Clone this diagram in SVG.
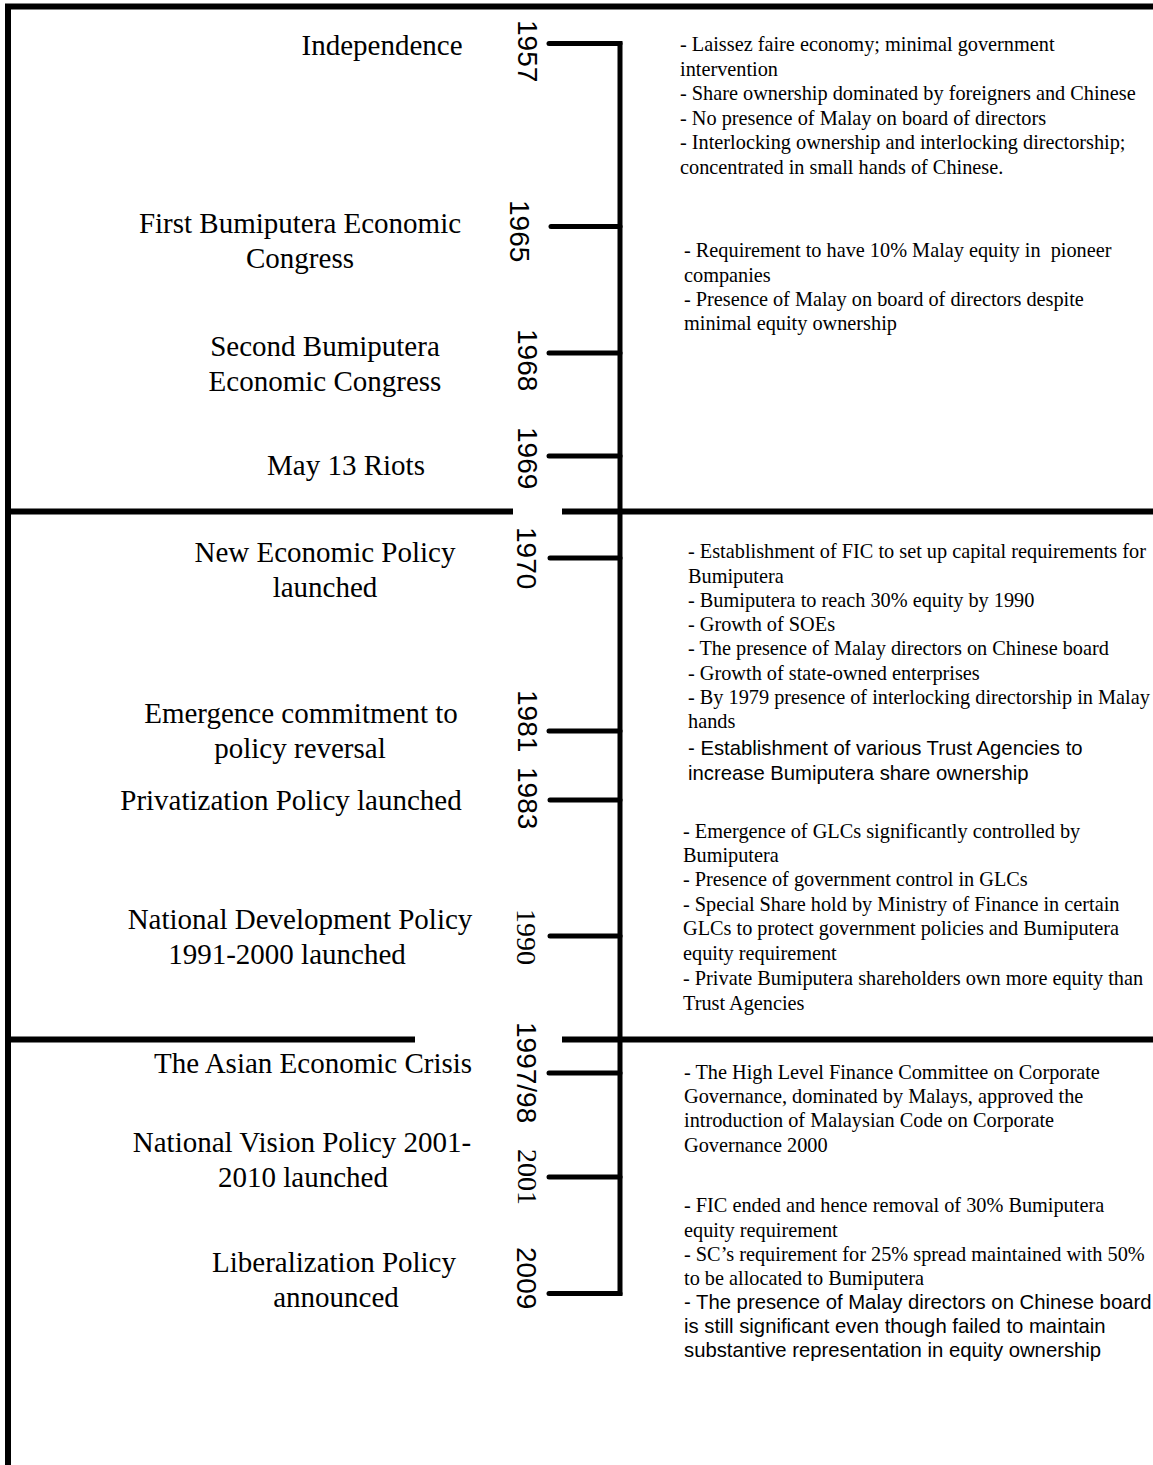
<svg xmlns="http://www.w3.org/2000/svg" width="1153" height="1465" viewBox="0 0 1153 1465">
<style>
.frame{stroke:#000;stroke-width:6;fill:none}
.spine{stroke:#000;stroke-width:5;fill:none}
.tick{stroke:#000;stroke-width:5;stroke-linecap:round;fill:none}
.lbl{font-family:"Liberation Serif","Times New Roman",serif;font-size:29px;fill:#000;text-anchor:middle}
.yr{font-family:"Liberation Sans",Arial,sans-serif;font-size:28px;fill:#000}
.yrs{font-family:"Liberation Serif","Times New Roman",serif;font-size:28px;fill:#000}
.d{font-family:"Liberation Serif","Times New Roman",serif;font-size:20.3px;fill:#000}
.a{font-family:"Liberation Sans",Arial,sans-serif;font-size:20.3px;fill:#000}
</style>
<rect width="1153" height="1465" fill="#fff"/>
<g id="frame">
<line class="frame" x1="5" y1="6.5" x2="1153" y2="6.5"/>
<line class="frame" x1="8" y1="4" x2="8" y2="1465"/>
<line class="frame" x1="8" y1="511.5" x2="513" y2="511.5"/>
<line class="frame" x1="562" y1="511.5" x2="1153" y2="511.5"/>
<line class="frame" x1="8" y1="1039.5" x2="415" y2="1039.5"/>
<line class="frame" x1="562" y1="1039.5" x2="1153" y2="1039.5"/>
</g>
<g id="connectors">
<line class="spine" x1="620" y1="41" x2="620" y2="1296"/>
<line class="tick" x1="549" y1="43.5" x2="620" y2="43.5"/>
<line class="tick" x1="551" y1="226.5" x2="620" y2="226.5"/>
<line class="tick" x1="549" y1="353" x2="620" y2="353"/>
<line class="tick" x1="549" y1="456" x2="620" y2="456"/>
<line class="tick" x1="550" y1="558" x2="620" y2="558"/>
<line class="tick" x1="549" y1="731" x2="620" y2="731"/>
<line class="tick" x1="550" y1="800" x2="620" y2="800"/>
<line class="tick" x1="550" y1="936" x2="620" y2="936"/>
<line class="tick" x1="549" y1="1073" x2="620" y2="1073"/>
<line class="tick" x1="549" y1="1177" x2="620" y2="1177"/>
<line class="tick" x1="549" y1="1293.5" x2="620" y2="1293.5"/>
</g>
<g id="n1957">
<text class="lbl" x="382" y="55">Independence</text>
<text class="yr" transform="translate(518,20) rotate(90)">1957</text>
<text class="d"><tspan x="680" y="51">- Laissez faire economy; minimal government</tspan><tspan x="680" y="75.5">intervention</tspan><tspan x="680" y="100">- Share ownership dominated by foreigners and Chinese</tspan><tspan x="680" y="124.5">- No presence of Malay on board of directors</tspan><tspan x="680" y="149">- Interlocking ownership and interlocking directorship;</tspan><tspan x="680" y="173.5">concentrated in small hands of Chinese.</tspan></text>
</g>
<g id="n1965">
<text class="lbl"><tspan x="300" y="233">First Bumiputera Economic</tspan><tspan x="300" y="268">Congress</tspan></text>
<text class="yr" transform="translate(510,200) rotate(90)">1965</text>
<text class="d" xml:space="preserve"><tspan x="684" y="257">- Requirement to have 10% Malay equity in  pioneer</tspan><tspan x="684" y="282">companies</tspan><tspan x="684" y="306">- Presence of Malay on board of directors despite</tspan><tspan x="684" y="330">minimal equity ownership</tspan></text>
</g>
<g id="n1968">
<text class="lbl"><tspan x="325" y="356">Second Bumiputera</tspan><tspan x="325" y="391">Economic Congress</tspan></text>
<text class="yr" transform="translate(518,329) rotate(90)">1968</text>
</g>
<g id="n1969">
<text class="lbl" x="346" y="475">May 13 Riots</text>
<text class="yr" transform="translate(518,427) rotate(90)">1969</text>
</g>
<g id="n1970">
<text class="lbl"><tspan x="325" y="562">New Economic Policy</tspan><tspan x="325" y="597">launched</tspan></text>
<text class="yr" transform="translate(517,527) rotate(90)">1970</text>
<text class="d"><tspan x="688" y="558">- Establishment of FIC to set up capital requirements for</tspan><tspan x="688" y="583">Bumiputera</tspan><tspan x="688" y="607">- Bumiputera to reach 30% equity by 1990</tspan><tspan x="688" y="631">- Growth of SOEs</tspan><tspan x="688" y="655">- The presence of Malay directors on Chinese board</tspan><tspan x="688" y="680">- Growth of state-owned enterprises</tspan><tspan x="688" y="704">- By 1979 presence of interlocking directorship in Malay</tspan><tspan x="688" y="728">hands</tspan></text>
<text class="a"><tspan x="688" y="755">- Establishment of various Trust Agencies to</tspan><tspan x="688" y="780">increase Bumiputera share ownership</tspan></text>
</g>
<g id="n1981">
<text class="lbl"><tspan x="301" y="723">Emergence commitment to</tspan><tspan x="300" y="758">policy reversal</tspan></text>
<text class="yr" transform="translate(518,690) rotate(90)">1981</text>
</g>
<g id="n1983">
<text class="lbl" x="291" y="810">Privatization Policy launched</text>
<text class="yr" transform="translate(518,767) rotate(90)">1983</text>
</g>
<g id="n1990">
<text class="lbl"><tspan x="300" y="929">National Development Policy</tspan><tspan x="287" y="964">1991-2000 launched</tspan></text>
<text class="yrs" transform="translate(517,909) rotate(90)">1990</text>
<text class="d"><tspan x="683" y="838">- Emergence of GLCs significantly controlled by</tspan><tspan x="683" y="862">Bumiputera</tspan><tspan x="683" y="886">- Presence of government control in GLCs</tspan><tspan x="683" y="911">- Special Share hold by Ministry of Finance in certain</tspan><tspan x="683" y="935">GLCs to protect government policies and Bumiputera</tspan><tspan x="683" y="960">equity requirement</tspan><tspan x="683" y="985">- Private Bumiputera shareholders own more equity than</tspan><tspan x="683" y="1010">Trust Agencies</tspan></text>
</g>
<g id="n1997">
<text class="lbl" x="313" y="1073">The Asian Economic Crisis</text>
<text class="yr" transform="translate(517,1022) rotate(90)">1997/98</text>
<text class="d"><tspan x="684" y="1079">- The High Level Finance Committee on Corporate</tspan><tspan x="684" y="1103">Governance, dominated by Malays, approved the</tspan><tspan x="684" y="1127">introduction of Malaysian Code on Corporate</tspan><tspan x="684" y="1152">Governance 2000</tspan></text>
</g>
<g id="n2001">
<text class="lbl"><tspan x="302" y="1152">National Vision Policy 2001-</tspan><tspan x="303" y="1187">2010 launched</tspan></text>
<text class="yrs" transform="translate(518,1149) rotate(90)">2001</text>
</g>
<g id="n2009">
<text class="lbl"><tspan x="334" y="1272">Liberalization Policy</tspan><tspan x="336" y="1307">announced</tspan></text>
<text class="yr" transform="translate(517,1247) rotate(90)">2009</text>
<text class="d"><tspan x="684" y="1212">- FIC ended and hence removal of 30% Bumiputera</tspan><tspan x="684" y="1237">equity requirement</tspan><tspan x="684" y="1261">- SC’s requirement for 25% spread maintained with 50%</tspan><tspan x="684" y="1285">to be allocated to Bumiputera</tspan></text>
<text class="a"><tspan x="684" y="1309">- The presence of Malay directors on Chinese board</tspan><tspan x="684" y="1333">is still significant even though failed to maintain</tspan><tspan x="684" y="1357">substantive representation in equity ownership</tspan></text>
</g>
</svg>
